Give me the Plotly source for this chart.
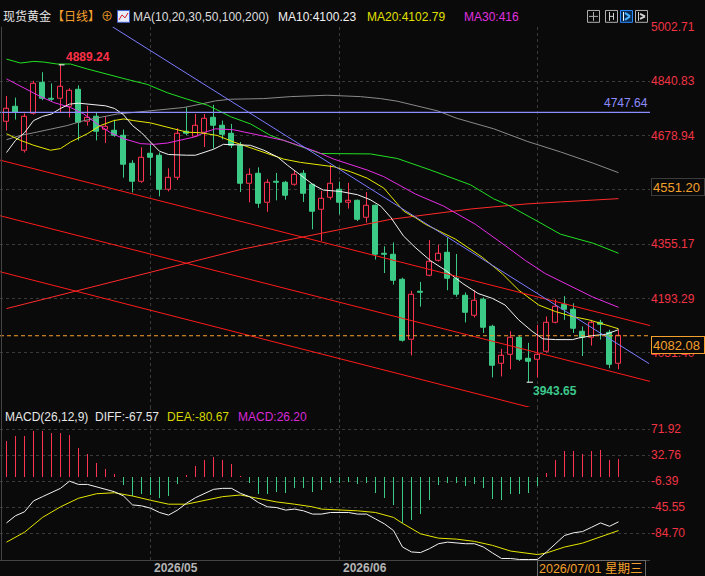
import plotly.graph_objects as go

# ---------------- data ----------------
candle_open = [4721.0, 4764.3, 4632.7, 4742.8, 4834.9, 4788.7, 4786.9, 4765.1, 4816.4, 4719.2,
               4735.7, 4695.7, 4693.6, 4678.9, 4593.6, 4539.7, 4623.0, 4617.1, 4517.0, 4553.2,
               4688.6, 4675.1, 4686.9, 4732.8, 4708.3, 4683.9, 4647.4, 4533.8, 4564.1, 4477.9,
               4541.5, 4537.6, 4531.8, 4564.1, 4531.8, 4457.3, 4494.4, 4516.2, 4479.7, 4484.7,
               4433.8, 4470.0, 4326.6, 4324.9, 4249.2, 4068.8, 4213.0, 4261.9, 4306.0, 4328.7,
               4252.2, 4201.3, 4142.4, 4188.3, 4108.0, 4000.0, 4026.4, 4075.6, 4013.8, 4010.0,
               4033.5, 4121.8, 4173.6, 4160.9, 4095.3, 4075.6, 4119.7, 4090.3, 3999.1]
candle_high = [4796.6, 4791.6, 4744.5, 4841.7, 4867.3, 4834.0, 4889.24, 4819.3, 4828.1, 4767.2,
               4747.5, 4735.7, 4726.0, 4696.6, 4605.3, 4643.6, 4653.3, 4628.0, 4580.9, 4700.4,
               4762.2, 4742.8, 4742.8, 4770.1, 4723.1, 4713.3, 4659.2, 4580.9, 4583.8, 4548.5,
               4567.1, 4543.5, 4573.8, 4575.9, 4534.0, 4514.1, 4590.6, 4541.5, 4537.6, 4487.6,
               4510.3, 4472.9, 4348.4, 4360.2, 4255.1, 4216.0, 4242.5, 4367.0, 4353.1, 4374.9,
               4325.7, 4211.0, 4217.7, 4196.3, 4114.7, 4043.2, 4095.3, 4082.4, 4060.9, 4114.7,
               4139.5, 4190.4, 4200.1, 4178.6, 4110.0, 4129.5, 4129.5, 4100.0, 4100.0]
candle_low = [4693.6, 4726.0, 4628.0, 4740.7, 4784.0, 4781.9, 4747.5, 4732.8, 4664.2, 4708.3,
              4664.2, 4656.2, 4675.0, 4553.2, 4509.1, 4537.0, 4559.1, 4497.3, 4512.0, 4546.5,
              4680.0, 4673.9, 4644.5, 4639.8, 4667.1, 4641.5, 4510.3, 4479.7, 4463.2, 4451.4,
              4485.6, 4487.6, 4529.0, 4480.8, 4399.3, 4364.9, 4487.6, 4443.5, 4461.1, 4423.8,
              4419.0, 4309.0, 4269.0, 4234.5, 4064.7, 4023.5, 4168.9, 4258.9, 4303.0, 4217.7,
              4198.3, 4121.8, 4136.5, 4090.3, 3957.9, 3960.8, 3982.3, 4007.0, 3943.65, 3957.9,
              4031.4, 4119.0, 4129.5, 4090.3, 4021.7, 4052.9, 4070.6, 3985.2, 3982.3]
candle_close = [4757.5, 4747.5, 4734.8, 4834.0, 4786.9, 4784.9, 4824.0, 4813.4, 4716.3, 4731.0,
                4688.6, 4705.4, 4676.8, 4592.7, 4539.7, 4613.3, 4612.1, 4517.9, 4551.5, 4683.9,
                4682.7, 4707.5, 4728.9, 4708.3, 4681.0, 4647.4, 4533.8, 4561.2, 4476.7, 4536.8,
                4537.6, 4500.3, 4563.2, 4504.4, 4450.2, 4489.7, 4533.8, 4479.7, 4483.8, 4428.8,
                4470.0, 4322.8, 4322.8, 4247.2, 4067.6, 4204.2, 4208.9, 4301.3, 4325.7, 4252.2,
                4205.1, 4149.2, 4186.5, 4105.0, 3994.1, 4021.7, 4075.6, 4011.7, 4004.1, 4024.7,
                4119.7, 4168.9, 4160.9, 4102.1, 4075.6, 4119.7, 4115.9, 3997.0, 4082.08]

ma10_x = [0, 1, 2, 3, 4, 5, 6, 7, 8, 9, 10, 11, 12, 13, 14, 15, 16, 17, 18, 19, 20, 21, 22, 23,
          24.1, 25.2, 27.1, 28.6, 30.1, 31.2, 32.7, 34.1, 35.2, 37.1, 39, 40.4, 41.6, 42.7, 44.1, 45.4,
          47.1, 48.8, 50.7, 52.4, 54, 55.4, 56.9, 58.4, 59.6, 61, 62.9, 63.6, 65.1, 66.6, 68]
ma10_val = [4628.0, 4664.2, 4686.9, 4723.1, 4735.7, 4742.8, 4759.3, 4772.2, 4775.1, 4772.2, 4769.3,
            4767.2, 4759.3, 4740.7, 4708.3, 4686.9, 4659.2, 4631.8, 4622.1, 4620.0, 4620.0, 4620.0,
            4628.0, 4637.7,
            4652.4, 4651.5, 4649.5, 4634.8, 4615.0, 4590.6, 4561.2, 4531.8, 4516.2, 4512.0, 4502.3,
            4487.6, 4467.9, 4434.6, 4379.6, 4345.5,
            4306.0, 4276.6, 4237.5, 4208.0, 4193.3, 4173.6, 4129.5, 4095.3, 4072.7, 4070.6, 4070.6,
            4075.6, 4082.4, 4086.5, 4100.23]

ma20_x = [0, 1.56, 3.03, 4.89, 6, 7.11, 8.97, 10.44, 11.92, 13.03, 14.14, 16, 18.59, 20.08, 21.56,
          23.41, 25.26, 27.11, 28.97, 30.81, 32.67, 34.52, 36.37, 38.22, 40.08, 41.92, 43.03, 44.14,
          45.44, 46.56, 49.89, 52.86, 55.08, 56.92, 59.14, 61, 62.86, 64.7, 66.56, 68]
ma20_val = [4683.9, 4664.2, 4649.5, 4634.8, 4639.8, 4659.2, 4683.9, 4708.3, 4723.1, 4728.1, 4723.1,
            4716.3, 4698.6, 4688.6, 4686.9, 4678.9, 4659.2, 4641.5, 4625.1, 4608.3, 4598.6, 4592.7,
            4585.6, 4570.9, 4551.5, 4522.1, 4487.6, 4453.2, 4433.8, 4414.0, 4369.9, 4316.0, 4266.9,
            4217.7, 4173.6, 4154.2, 4139.5, 4129.5, 4114.7, 4102.79]

ma30_x = [0, 1.19, 2.3, 3.78, 5.26, 7.11, 8.59, 10.08, 11.56, 13.03, 14.89, 16.37, 17.86, 19.33,
          20.81, 22.3, 23.22, 25.26, 27.11, 28.97, 30.81, 32.67, 34.52, 36.37, 38.22, 40.08, 41.92,
          43.78, 45.44, 48.56, 52.11, 55.44, 57.67, 59.89, 62.86, 65.08, 68]
ma30_val = [4847.5, 4831.1, 4816.3, 4794.6, 4776.9, 4762.2, 4742.8, 4713.3, 4686.9, 4669.2, 4654.5,
            4652.4, 4656.2, 4664.2, 4673.9, 4690.7, 4698.6, 4695.7, 4685.7, 4676.0, 4664.2, 4647.4,
            4629.8, 4608.3, 4592.7, 4575.9, 4556.2, 4529.7, 4504.4, 4468.5, 4414.0, 4350.2, 4306.0,
            4266.9, 4227.7, 4198.3, 4166.8]

ma50_x = [0, 1.56, 3.03, 4.14, 5.63, 7.11, 8.97, 11.19, 13.41, 15.63, 17.85, 20.08, 22.3, 23.22,
          24.89, 27.11, 29.33, 32.3, 34.89, 40.44, 43.41, 47.11, 51.56, 54.15, 55.63, 58.96, 61.56,
          65.26, 68]
ma50_val = [4906.4, 4894.6, 4899.6, 4897.6, 4891.7, 4891.7, 4877.0, 4860.5, 4845.8, 4831.1, 4806.3,
            4786.9, 4769.3, 4757.5, 4734.8, 4713.3, 4678.9, 4649.5, 4625.1, 4623.9, 4610.3, 4575.9,
            4531.8, 4489.8, 4472.9, 4423.8, 4384.6, 4357.2, 4327.8]

ma100_x = [0, 1.56, 3.03, 4.89, 6.74, 8.59, 10.44, 12.3, 14.14, 16, 17.85, 19.7, 21.56, 23.22,
           24.89, 28.59, 31.56, 35.63, 39.33, 41.56, 43.41, 45.63, 47.85, 50.07, 54.15, 57.85, 61.56,
           65.26, 68]
ma100_val = [4666.3, 4678.9, 4686.9, 4698.6, 4708.3, 4723.1, 4732.8, 4742.8, 4747.5, 4752.5, 4759.3,
             4762.2, 4772.2, 4781.9, 4786.9, 4788.7, 4794.6, 4798.7, 4794.6, 4788.7, 4781.0, 4767.2,
             4752.5, 4729.8, 4698.6, 4661.3, 4629.8, 4595.6, 4568.0]

ma200_x = [0, 26.0, 42.67, 46.78, 51.56, 54.15, 57.85, 61.56, 65.26, 68]
ma200_val = [4163.0, 4339.0, 4428.8, 4443.5, 4459.7, 4466.1, 4475.0, 4480.8, 4485.6, 4490.6]

macd_hist = [54.5, 60.9, 61.0, 69.4, 69.4, 66.4, 66.4, 63.0, 44.1, 34.2,
             20.4, 12.5, 4.5, -12.8, -28.7, -26.2, -27.2, -32.1, -29.1, -11.3,
             2.5, 15.9, 25.9, 29.3, 25.9, 19.3, 0.5, -8.9, -25.3, -25.3,
             -22.3, -23.8, -16.3, -17.3, -22.3, -20.2, -8.9, -8.9, -7.4, -11.3,
             -8.9, -23.8, -31.2, -42.5, -69.8, -64.8, -55.9, -34.6, -12.8, -8.9,
             -8.9, -13.8, -11.3, -17.3, -32.7, -35.1, -26.2, -25.3, -23.8, -13.8,
             5.9, 25.9, 38.2, 38.2, 34.2, 38.2, 39.7, 24.8, 26.2]

diff_x = [0, 1, 2, 3, 4, 6, 7, 8, 9, 11, 12, 13, 14, 15, 16, 17, 18, 19, 20, 21, 22, 23, 24, 25,
          26, 27, 28, 29, 30, 31, 32, 33, 34, 35, 36, 38, 39, 40, 41, 42, 43, 44, 45, 46, 47, 48,
          49, 50, 51, 52, 53, 54, 55, 56, 57, 58, 59, 60, 61, 62, 63, 64, 65, 66, 67, 68]
diff_val = [-69.2, -58.4, -52.5, -36.1, -29.7, -17.2, -6.4, -11.3, -11.3,
            -19.3, -22.3, -28.7, -42.1, -43.5, -47.0, -53.5, -57.4, -49.9, -39.5,
            -31.2, -24.7, -18.7, -17.2, -17.2, -24.7, -29.7, -38.6, -45.0, -46.1,
            -49.9, -48.4, -51.0, -55.9, -55.9, -53.5,
            -53.5, -55.9, -55.9, -63.3, -70.7, -80.7,
            -105.5, -112.9, -113.8, -107.9, -100.5, -98.1, -99.6, -100.5, -100.5, -105.5,
            -114.4, -122.7, -122.7, -124.2, -124.2, -124.2, -112.9, -100.5, -88.1, -84.1,
            -82.2, -75.8, -69.2, -74.3, -67.57]

dea_x = [0, 2, 4, 6, 8, 10, 12, 14, 16, 18, 20, 22, 24, 26, 28, 30, 32, 34, 35, 38, 39, 41, 43,
         44, 46, 48, 50, 52, 54, 56, 58, 59, 60, 62, 64, 66, 68]
dea_val = [-98.1, -83.2, -60.9, -45.0, -32.1, -25.3, -23.8, -28.7, -35.1, -41.0, -41.0, -35.1,
           -29.7, -27.2, -32.7, -37.6, -41.0, -45.0, -48.4, -49.5, -51.0, -53.5, -60.9, -69.8,
           -85.6, -92.1, -93.6, -97.0, -103.0, -111.5, -115.3, -116.8, -114.4, -105.5, -99.6,
           -90.6, -80.67]

# drawn trend lines (anchor points in index / price units)
trend_x = [-0.72, 71.5]
trend_upper = [4605.4, 4112.4]
trend_middle = [4439.7, 3946.1]
trend_lower = [4272.8, 3777.2]
blue_trend_x = [11.77, 71.39]
blue_trend_val = [5002.7, 3999.1]

price_ticks = [5002.71, 4840.83, 4678.94, 4517.05, 4355.17, 4193.29, 4031.40]
price_tick_text = ["5002.71", "4840.83", "4678.94", "", "4355.17", "4193.29", "4031.40"]
macd_ticks = [71.92, 32.76, -6.39, -45.55, -84.70]
month_idx = [16, 37]
month_text = ["2026/05", "2026/06"]
cursor_idx = 59
cursor_text = "2026/07/01 星期三"
last_price = 4082.08
hline_price = 4747.64
cursor_price = 4551.20
high_idx, high_val = 6, 4889.24
low_idx, low_val = 58, 3943.65

# ---------------- styling ----------------
W, H = 705, 576
BG = '#0a0a0a'
UP = '#ff3352'
DN = '#3ccb87'
GRID = '#3a3a3a'
AXRED = '#f03444'
ORANGE = '#f5a02c'
FONT = 'Liberation Sans, Noto Sans CJK SC, sans-serif'
X_RANGE = [-0.7222, 71.5]
PLOT_R = 650


def px_x(p):
    return p / W


def px_y(p):
    return 1 - p / H


n = len(candle_close)
idx = list(range(n))
up = [i for i in idx if candle_close[i] >= candle_open[i]]
dn = [i for i in idx if candle_close[i] < candle_open[i]]

fig = go.Figure()

# candle bodies
fig.add_trace(go.Bar(x=up, base=[candle_open[i] for i in up],
                     y=[max(candle_close[i] - candle_open[i], 0.8) for i in up],
                     width=0.66, marker=dict(color=BG, line=dict(color=UP, width=1)),
                     xaxis='x', yaxis='y'))
fig.add_trace(go.Bar(x=dn, base=[candle_close[i] for i in dn],
                     y=[max(candle_open[i] - candle_close[i], 0.8) for i in dn],
                     width=0.66, marker=dict(color=DN, line=dict(color=DN, width=1)),
                     xaxis='x', yaxis='y'))

# wicks
wx, wy = [], []
for i in up:
    wx += [i, i, None, i, i, None]
    wy += [candle_high[i], candle_close[i], None, candle_open[i], candle_low[i], None]
fig.add_trace(go.Scatter(x=wx, y=wy, mode='lines', line=dict(color=UP, width=1), xaxis='x', yaxis='y'))
wx, wy = [], []
for i in dn:
    wx += [i, i, None]
    wy += [candle_high[i], candle_low[i], None]
fig.add_trace(go.Scatter(x=wx, y=wy, mode='lines', line=dict(color=DN, width=1), xaxis='x', yaxis='y'))

# moving averages
for xs, ys, col in [(ma100_x, ma100_val, '#8a8a8a'), (ma200_x, ma200_val, '#ff2a2a'),
                    (ma50_x, ma50_val, '#22e022'), (ma30_x, ma30_val, '#e62ee6'),
                    (ma20_x, ma20_val, '#e8e800'), (ma10_x, ma10_val, '#f2f2f2')]:
    fig.add_trace(go.Scatter(x=xs, y=ys, mode='lines', line=dict(color=col, width=1),
                             xaxis='x', yaxis='y'))

# drawn lines
for ys in (trend_upper, trend_middle, trend_lower):
    fig.add_trace(go.Scatter(x=trend_x, y=ys, mode='lines', line=dict(color='#ff1a1a', width=1),
                             xaxis='x', yaxis='y'))
fig.add_trace(go.Scatter(x=blue_trend_x, y=blue_trend_val, mode='lines',
                         line=dict(color='#7b7bff', width=1), xaxis='x', yaxis='y'))
fig.add_trace(go.Scatter(x=trend_x, y=[hline_price, hline_price], mode='lines',
                         line=dict(color='#8c8cff', width=1.2), xaxis='x', yaxis='y'))
fig.add_trace(go.Scatter(x=trend_x, y=[last_price, last_price], mode='lines',
                         line=dict(color='#f5a02c', width=1, dash='4px,3px'), xaxis='x', yaxis='y'))

# high / low markers
fig.add_trace(go.Scatter(x=[high_idx - 0.2, high_idx + 0.45], y=[high_val, high_val], mode='lines',
                         line=dict(color='#ffffff', width=1), xaxis='x', yaxis='y'))
fig.add_trace(go.Scatter(x=[low_idx - 0.2, low_idx + 0.5], y=[low_val, low_val], mode='lines',
                         line=dict(color='#ffffff', width=1), xaxis='x', yaxis='y'))

# MACD histogram
pos = [i for i in idx if macd_hist[i] >= 0]
neg = [i for i in idx if macd_hist[i] < 0]
fig.add_trace(go.Bar(x=pos, y=[macd_hist[i] for i in pos], width=0.111,
                     marker=dict(color=UP, line=dict(width=0)), xaxis='x2', yaxis='y2'))
fig.add_trace(go.Bar(x=neg, y=[macd_hist[i] for i in neg], width=0.111,
                     marker=dict(color=DN, line=dict(width=0)), xaxis='x2', yaxis='y2'))
fig.add_trace(go.Scatter(x=dea_x, y=dea_val, mode='lines', line=dict(color='#e6e600', width=1),
                         xaxis='x2', yaxis='y2'))
fig.add_trace(go.Scatter(x=diff_x, y=diff_val, mode='lines', line=dict(color='#f2f2f2', width=1),
                         xaxis='x2', yaxis='y2'))

axis_common = dict(showgrid=True, gridcolor=GRID, griddash='dot', gridwidth=1, zeroline=False,
                   ticks='', fixedrange=True)

fig.update_layout(
    width=W, height=H, margin=dict(l=0, r=0, t=0, b=0),
    paper_bgcolor=BG, plot_bgcolor=BG, showlegend=False, barmode='overlay', bargap=0,
    hovermode=False, font=dict(family=FONT, size=12, color='#dddddd'),
    xaxis=dict(domain=[0, PLOT_R / W], range=X_RANGE, anchor='y', tickvals=month_idx + [cursor_idx],
               showticklabels=False, showline=False, **axis_common),
    yaxis=dict(domain=[px_y(405), px_y(20)], range=[3869.54, 5002.76], anchor='x', side='right',
               tickvals=price_ticks, ticktext=price_tick_text,
               tickfont=dict(color=AXRED, size=12), showline=False, **axis_common),
    xaxis2=dict(domain=[0, PLOT_R / W], range=X_RANGE, anchor='y2', tickvals=month_idx + [cursor_idx],
                showticklabels=False, showline=True, linecolor='#444444', linewidth=1, **axis_common),
    yaxis2=dict(domain=[px_y(560), px_y(405)], range=[-125.27, 105.06], anchor='x2', side='right',
                tickvals=macd_ticks, ticktext=[f"{v:.2f}" for v in macd_ticks],
                tickfont=dict(color=AXRED, size=12), showline=False, **axis_common),
)


def label(text, x, y, color, size=12, xanchor='left', yanchor='middle', **kw):
    fig.add_annotation(text=text, xref='paper', yref='paper', x=px_x(x), y=px_y(y),
                       xanchor=xanchor, yanchor=yanchor, showarrow=False,
                       font=dict(color=color, size=size, family=FONT), **kw)


# header
label("现货黄金", 1, 10, '#e6e6e6', 12)
label("【日线】", 50, 10, ORANGE, 12)
label("⊕", 99, 10, ORANGE, 12)
label("MA(10,20,30,50,100,200)", 131, 10, '#dcdcdc', 12)
label("MA10:4100.23", 276, 10, '#f0f0f0', 12)
label("MA20:4102.79", 365, 10, '#e0e000', 12)
label("MA30:416", 462, 10, '#e030e0', 12)


# small header icons (decorative)
def rect_px(x0, y0, x1, y1, line, fill='rgba(0,0,0,0)'):
    fig.add_shape(type='rect', xref='paper', yref='paper', x0=px_x(x0), x1=px_x(x1),
                  y0=px_y(y1), y1=px_y(y0), line=dict(color=line, width=1), fillcolor=fill)


def line_px(x0, y0, x1, y1, col, width=1):
    fig.add_shape(type='line', xref='paper', yref='paper', x0=px_x(x0), x1=px_x(x1),
                  y0=px_y(y0), y1=px_y(y1), line=dict(color=col, width=width))


rect_px(117.5, 3.5, 129.5, 15.5, '#4060d0', '#e8ecf8')
line_px(119, 13, 122, 8, '#d02020')
line_px(122, 8, 125, 11, '#d02020')
line_px(125, 11, 128, 6, '#d02020')
rect_px(587.5, 3.5, 599.5, 15.5, '#b0b0b0')
line_px(593.5, 5, 593.5, 14, '#b0b0b0')
line_px(589, 9.5, 598, 9.5, '#b0b0b0')
rect_px(605.5, 3.5, 617.5, 15.5, '#b0b0b0')
line_px(609.5, 5, 609.5, 14, '#d0d0d0')
line_px(613.5, 6, 613.5, 13, '#d0d0d0')
line_px(609.5, 9.5, 613.5, 9.5, '#d0d0d0')
rect_px(620.5, 3.5, 632.5, 15.5, '#2a8cff', '#0a2a50')
line_px(623.5, 5, 623.5, 14, '#ffffff')
line_px(625, 6, 630, 9.5, '#4ab0ff', 2)
line_px(625, 13, 630, 9.5, '#4ab0ff', 2)
rect_px(635.5, 3.5, 647.5, 15.5, '#b0b0b0')
line_px(638.5, 5, 638.5, 14, '#d0d0d0')
line_px(640, 7, 645, 9.5, '#d0d0d0', 2)
line_px(640, 12, 645, 9.5, '#d0d0d0', 2)

# left border
line_px(1.5, 20, 1.5, 560, '#444444')

# MACD header
label("MACD(26,12,9)", 3, 415, '#e6e6e6', 12)
label("DIFF:-67.57", 93, 415, '#e6e6e6', 12)
label("DEA:-80.67", 165, 415, '#d8d800', 12)
label("MACD:26.20", 236, 415, '#d828d8', 12)

# price labels on the chart
fig.add_annotation(text=f"<b>{high_val:.2f}</b>", x=high_idx, y=high_val, xref='x', yref='y',
                   xanchor='left', yanchor='bottom', xshift=3, yshift=-1, showarrow=False,
                   font=dict(color='#ff3048', size=12, family=FONT))
fig.add_annotation(text=f"<b>{low_val:.2f}</b>", x=low_idx, y=low_val, xref='x', yref='y',
                   xanchor='left', yanchor='top', xshift=2, yshift=0, showarrow=False,
                   font=dict(color='#3cc88a', size=12, family=FONT))
fig.add_annotation(text=f"{hline_price:.2f}", x=X_RANGE[1], y=hline_price, xref='x', yref='y',
                   xanchor='right', yanchor='bottom', yshift=0, showarrow=False,
                   font=dict(color='#8c8cff', size=12, family=FONT))

# boxed labels on the right axis
label(f"{last_price:.2f}", 650.5, 342, ORANGE, 13, bordercolor=ORANGE, borderwidth=1,
      borderpad=1, bgcolor=BG, width=50, height=14, align='left')
label(f"{cursor_price:.2f}", 650.5, 182.7, ORANGE, 13, bordercolor='#3c3c3c', borderwidth=1,
      borderpad=1, bgcolor=BG, width=50, height=14, align='left')

# time axis labels
for i, t in zip(month_idx, month_text):
    fig.add_annotation(text=f"<b>{t}</b>", x=i, xref='x2', y=px_y(568), yref='paper',
                       xanchor='left', yanchor='middle', xshift=1, showarrow=False,
                       font=dict(color='#b4b4b4', size=12, family=FONT))
fig.add_annotation(text=cursor_text, x=cursor_idx, xref='x2', y=px_y(568.3), yref='paper',
                   xanchor='left', yanchor='middle', xshift=-0.5, showarrow=False,
                   font=dict(color=ORANGE, size=12.5, family=FONT), bordercolor='#6a6a6a',
                   borderwidth=1, borderpad=1, bgcolor=BG, width=105, height=13, align='left')

fig.write_html("out.html")
